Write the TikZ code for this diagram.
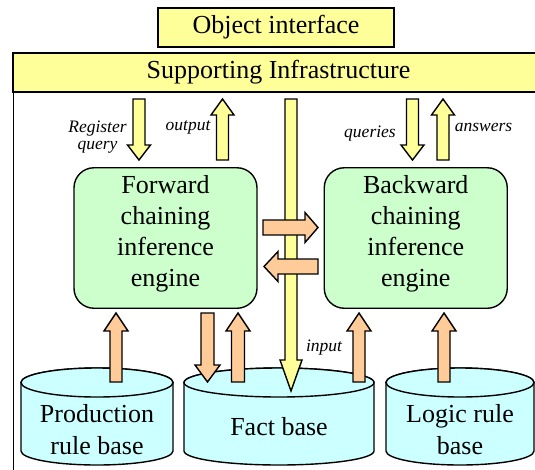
\documentclass[tikz,border=0pt]{standalone}
\usepackage{fontspec}
\setmainfont{Liberation Serif}
\usetikzlibrary{calc}
\definecolor{cyel}{HTML}{FFFF99}
\definecolor{cgrn}{HTML}{CCFFCC}
\definecolor{corg}{HTML}{FFCC99}
\definecolor{ccyn}{HTML}{CCFFFF}
% block arrow: from, to, fill, shaft half width, head half width, head length
\newcommand\blockarrow[6]{%
  \coordinate (bahead) at ($(#2)!#6!(#1)$);
  \draw[outl,fill=#3] ($(#1)!#4!90:(#2)$) -- ($(bahead)!#4!-90:(#1)$) -- ($(bahead)!#5!-90:(#1)$) -- (#2) -- ($(bahead)!#5!90:(#1)$) -- ($(bahead)!#4!90:(#1)$) -- ($(#1)!#4!-90:(#2)$) -- cycle;}
% cylinder: centre x, x radius
\newcommand\cylshape[2]{%
  \draw[outl,fill=ccyn] (#1-#2,382.5) -- (#1-#2,451) arc[start angle=180,end angle=360,x radius=#2pt,y radius=14pt] -- (#1+#2,382.5) arc[start angle=0,end angle=180,x radius=#2pt,y radius=14.5pt] -- cycle;
  \draw[outl,fill=ccyn] (#1,382.5) ellipse[x radius=#2pt,y radius=14.5pt];}
\begin{document}
\begin{tikzpicture}[x=1pt,y=-1pt,
  outl/.style={draw=black,line width=1.4pt,line join=miter},
  big/.style={font=\fontsize{26}{31}\selectfont},
  lab/.style={font=\fontsize{17.5}{17}\selectfont\itshape,align=center,inner sep=0pt},
  enginebox/.style={outl,fill=cgrn,rounded corners=20pt,minimum width=183pt,minimum height=140.5pt,inner sep=0pt}]
\useasboundingbox (0,0) rectangle (535,469);
\clip (0,0) rectangle (535,469);
% outer frame
\node[outl,minimum width=531pt,minimum height=440pt,anchor=north west,inner sep=0pt] (frame) at (13,53) {};
% top bars
\node[outl,fill=cyel,minimum width=531pt,minimum height=39pt,inner sep=0pt,big] (infra) at (278.5,72.5) {Supporting Infrastructure};
\node[outl,fill=cyel,minimum width=236pt,minimum height=39pt,inner sep=0pt,big] (obj) at (276,27.5) {Object interface};
% engines
\node[enginebox] (fwd) at (165.5,238) {};
\node[big,align=center,inner sep=0pt] (fwdtext) at (165.5,234) {Forward\\chaining\\inference\\engine};
\node[enginebox] (bwd) at (415.75,238) {};
\node[big,align=center,inner sep=0pt] (bwdtext) at (415.75,234) {Backward\\chaining\\inference\\engine};
% cylinders
\cylshape{97}{76}
\cylshape{279}{95}
\cylshape{460}{74}
\node[font=\fontsize{26}{32}\selectfont,align=center,inner sep=0pt] (prod) at (97,430) {Production\\rule base};
\node[big,inner sep=0pt] (fact) at (279,427) {Fact base};
\node[font=\fontsize{26}{32}\selectfont,align=center,inner sep=0pt] (logic) at (460,430) {Logic rule\\base};
% central input bar
\coordinate (in1) at (291,99); \coordinate (in2) at (291,391);
\blockarrow{in1}{in2}{cyel}{6pt}{11pt}{31pt}
% horizontal exchange arrows
\coordinate (h1a) at (263,227.5); \coordinate (h1b) at (318,227.5);
\blockarrow{h1a}{h1b}{corg}{7.5pt}{15pt}{13pt}
\coordinate (h2a) at (318,266.5); \coordinate (h2b) at (264,266.5);
\blockarrow{h2a}{h2b}{corg}{7.5pt}{15pt}{14pt}
% top arrows
\coordinate (ra) at (139,99); \coordinate (rb) at (139,160);
\blockarrow{ra}{rb}{cyel}{6pt}{11.5pt}{15pt}
\coordinate (oa) at (222.5,160); \coordinate (ob) at (222.5,99);
\blockarrow{oa}{ob}{cyel}{6pt}{11.5pt}{16pt}
\coordinate (qa) at (412.5,99); \coordinate (qb) at (412.5,160);
\blockarrow{qa}{qb}{cyel}{6pt}{11.5pt}{15pt}
\coordinate (aa) at (443,160); \coordinate (ab) at (443,99);
\blockarrow{aa}{ab}{cyel}{6pt}{11.5pt}{16pt}
% bottom arrows
\coordinate (p1) at (116,382); \coordinate (p2) at (116,313);
\blockarrow{p1}{p2}{corg}{6pt}{12pt}{18pt}
\coordinate (d1) at (207.5,313); \coordinate (d2) at (207.5,382);
\blockarrow{d1}{d2}{corg}{6.5pt}{12.5pt}{17pt}
\coordinate (u1) at (238,382); \coordinate (u2) at (238,313);
\blockarrow{u1}{u2}{corg}{6.5pt}{12pt}{18pt}
\coordinate (b1) at (359,382); \coordinate (b2) at (359,313);
\blockarrow{b1}{b2}{corg}{6pt}{12pt}{18pt}
\coordinate (l1) at (444,382); \coordinate (l2) at (444,313);
\blockarrow{l1}{l2}{corg}{6pt}{12pt}{18pt}
% labels
\node[lab] (lreg) at (97.5,137.5) {Register\\query};
\node[lab] (lout) at (188,127) {output};
\node[lab] (lqry) at (370,134) {queries};
\node[lab] (lans) at (483.5,127) {answers};
\node[lab] (linp) at (324,348) {input};
\end{tikzpicture}
\end{document}
